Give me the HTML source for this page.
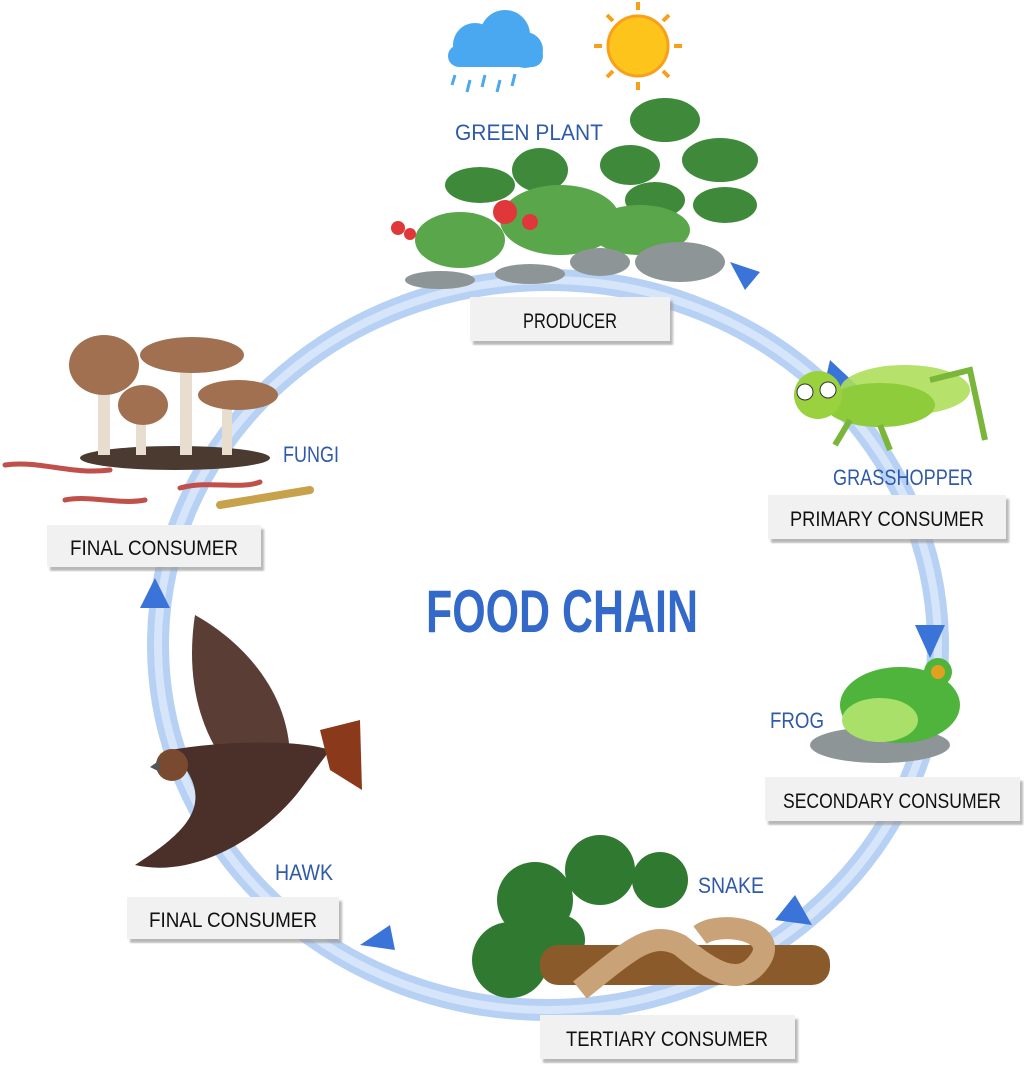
<!DOCTYPE html>
<html><head><meta charset="utf-8"><style>
html,body{margin:0;padding:0;background:#fff;width:1024px;height:1065px;overflow:hidden}
svg{display:block}
.lbl{font-family:"Liberation Sans",sans-serif;font-size:21px;fill:#111}
.blue{font-family:"Liberation Sans",sans-serif;font-size:22px;fill:#2f5aa8}
</style></head><body>
<svg width="1024" height="1065" viewBox="0 0 1024 1065">
<defs>
<filter id="sh"><feDropShadow dx="3" dy="4" stdDeviation="1" flood-color="#999" flood-opacity="0.7"/></filter>
</defs>
<ellipse cx="548" cy="645" rx="390" ry="365" fill="none" stroke="#b7d1f4" stroke-width="22"/>
<ellipse cx="548" cy="645" rx="390" ry="365" fill="none" stroke="#d6e5f9" stroke-width="8"/>
<polygon points="830,360 862,390 822,395" fill="#3b74d9"/>
<polygon points="915,625 945,625 930,658" fill="#3b74d9"/>
<polygon points="795,895 812,925 775,920" fill="#3b74d9"/>
<polygon points="395,950 360,945 390,925" fill="#3b74d9"/>
<polygon points="140,608 170,608 155,578" fill="#3b74d9"/>
<polygon points="730,262 760,272 745,290" fill="#3b74d9"/>
<g fill="#4aa8f0"><circle cx="475" cy="45" r="22"/><circle cx="505" cy="35" r="25"/><circle cx="525" cy="50" r="18"/><rect x="448" y="45" width="95" height="22" rx="11"/></g>
<g stroke="#4aa8f0" stroke-width="3"><line x1="455" y1="75" x2="452" y2="85"/><line x1="470" y1="80" x2="467" y2="92"/><line x1="485" y1="75" x2="482" y2="87"/><line x1="500" y1="80" x2="497" y2="92"/><line x1="515" y1="74" x2="512" y2="86"/></g>
<circle cx="638" cy="46" r="30" fill="#fdc51b" stroke="#f7a11a" stroke-width="3"/>
<g stroke="#f7a11a" stroke-width="4"><line x1="638" y1="2" x2="638" y2="10"/><line x1="638" y1="82" x2="638" y2="90"/><line x1="594" y1="46" x2="602" y2="46"/><line x1="674" y1="46" x2="682" y2="46"/><line x1="607" y1="15" x2="613" y2="21"/><line x1="663" y1="71" x2="669" y2="77"/><line x1="669" y1="15" x2="663" y2="21"/><line x1="607" y1="77" x2="613" y2="71"/></g>
<text class="blue" x="455" y="140" textLength="148" lengthAdjust="spacingAndGlyphs">GREEN PLANT</text>
<g fill="#3e8a3a"><ellipse cx="665" cy="120" rx="35" ry="22"/><ellipse cx="720" cy="160" rx="38" ry="22"/><ellipse cx="630" cy="165" rx="30" ry="20"/><ellipse cx="725" cy="205" rx="32" ry="18"/><ellipse cx="655" cy="200" rx="30" ry="18"/><ellipse cx="480" cy="185" rx="35" ry="18"/><ellipse cx="540" cy="170" rx="28" ry="22"/></g>
<g fill="#5aa64a"><ellipse cx="560" cy="220" rx="60" ry="35"/><ellipse cx="460" cy="240" rx="45" ry="28"/><ellipse cx="640" cy="230" rx="50" ry="25"/></g>
<g fill="#e0383a"><circle cx="505" cy="212" r="12"/><circle cx="530" cy="222" r="8"/><circle cx="398" cy="228" r="7"/><circle cx="410" cy="234" r="6"/></g>
<g fill="#8d9596"><ellipse cx="680" cy="262" rx="45" ry="20"/><ellipse cx="600" cy="262" rx="30" ry="14"/><ellipse cx="530" cy="274" rx="35" ry="10"/><ellipse cx="440" cy="280" rx="35" ry="9"/></g>
<rect x="470" y="297" width="200" height="44" fill="#f1f1f1" filter="url(#sh)"/>
<text class="lbl" x="570" y="328" text-anchor="middle" textLength="94" lengthAdjust="spacingAndGlyphs">PRODUCER</text>
<ellipse cx="905" cy="390" rx="65" ry="25" fill="#aede5a" opacity="0.9"/>
<ellipse cx="880" cy="405" rx="55" ry="22" fill="#8fcc3c"/>
<circle cx="818" cy="395" r="24" fill="#9ad13f"/>
<circle cx="805" cy="392" r="8" fill="#fff" stroke="#333"/><circle cx="828" cy="390" r="8" fill="#fff" stroke="#333"/>
<g stroke="#7ab63a" stroke-width="6" fill="none"><path d="M930 380 L970 370 L985 440"/><path d="M850 420 L835 445"/><path d="M880 425 L890 450"/></g>
<text class="blue" x="833" y="485" textLength="140" lengthAdjust="spacingAndGlyphs">GRASSHOPPER</text>
<rect x="768" y="495" width="238" height="44" fill="#f1f1f1" filter="url(#sh)"/>
<text class="lbl" x="887" y="526" text-anchor="middle" textLength="194" lengthAdjust="spacingAndGlyphs">PRIMARY CONSUMER</text>
<ellipse cx="880" cy="745" rx="70" ry="18" fill="#8d9596"/>
<ellipse cx="900" cy="705" rx="60" ry="38" fill="#4fb43c"/>
<ellipse cx="880" cy="720" rx="38" ry="22" fill="#a8e06a"/>
<circle cx="938" cy="672" r="14" fill="#4fb43c"/><circle cx="938" cy="672" r="7" fill="#e0a020"/>
<text class="blue" x="770" y="728" textLength="54" lengthAdjust="spacingAndGlyphs">FROG</text>
<rect x="765" y="777" width="255" height="44" fill="#f1f1f1" filter="url(#sh)"/>
<text class="lbl" x="892" y="808" text-anchor="middle" textLength="218" lengthAdjust="spacingAndGlyphs">SECONDARY CONSUMER</text>
<g fill="#2f7a30"><circle cx="535" cy="900" r="38"/><circle cx="600" cy="870" r="35"/><circle cx="660" cy="880" r="28"/><circle cx="510" cy="960" r="38"/><circle cx="560" cy="940" r="25"/></g>
<rect x="540" y="945" width="290" height="40" rx="18" fill="#8b5a2b"/>
<g fill="none" stroke="#c9a277" stroke-width="22"><path d="M580 990 C630 950 650 930 680 945 C710 970 740 990 760 960 C780 930 720 920 700 935"/></g>
<text class="blue" x="698" y="893" textLength="66" lengthAdjust="spacingAndGlyphs">SNAKE</text>
<rect x="540" y="1015" width="255" height="44" fill="#f1f1f1" filter="url(#sh)"/>
<text class="lbl" x="667" y="1046" text-anchor="middle" textLength="202" lengthAdjust="spacingAndGlyphs">TERTIARY CONSUMER</text>
<path d="M195 615 C240 640 290 690 290 760 L240 780 C200 740 185 680 195 615Z" fill="#5a3e36"/>
<path d="M170 750 C230 740 300 740 330 750 L300 790 C270 830 200 880 135 865 C190 830 220 800 170 750Z" fill="#4a3028"/>
<path d="M320 730 L360 720 L362 790 L330 770Z" fill="#8a3a1a"/>
<circle cx="172" cy="765" r="16" fill="#7a4a30"/>
<polygon points="150,767 160,760 160,772" fill="#555"/>
<text class="blue" x="275" y="880" textLength="58" lengthAdjust="spacingAndGlyphs">HAWK</text>
<rect x="127" y="897" width="212" height="42" fill="#f1f1f1" filter="url(#sh)"/>
<text class="lbl" x="233" y="927" text-anchor="middle" textLength="168" lengthAdjust="spacingAndGlyphs">FINAL CONSUMER</text>
<ellipse cx="175" cy="458" rx="95" ry="12" fill="#4a3a30"/>
<g fill="#e9ddd0"><rect x="98" y="375" width="12" height="80"/><rect x="180" y="360" width="12" height="95"/><rect x="222" y="400" width="10" height="55"/><rect x="136" y="415" width="10" height="40"/></g>
<g fill="#a07050"><ellipse cx="104" cy="365" rx="35" ry="30"/><ellipse cx="192" cy="355" rx="52" ry="18"/><ellipse cx="238" cy="395" rx="40" ry="15"/><ellipse cx="143" cy="405" rx="25" ry="20"/></g>
<g stroke="#c0504a" stroke-width="5" fill="none" stroke-linecap="round"><path d="M5 465 C40 460 70 475 110 470"/><path d="M65 500 C90 495 120 505 145 500"/><path d="M180 488 C210 480 240 490 260 482"/></g>
<path d="M220 505 L310 490" stroke="#c7a24a" stroke-width="8" stroke-linecap="round"/>
<text class="blue" x="283" y="462" textLength="56" lengthAdjust="spacingAndGlyphs">FUNGI</text>
<rect x="47" y="525" width="214" height="42" fill="#f1f1f1" filter="url(#sh)"/>
<text class="lbl" x="154" y="555" text-anchor="middle" textLength="168" lengthAdjust="spacingAndGlyphs">FINAL CONSUMER</text>
<text x="562" y="632" text-anchor="middle" font-family="Liberation Sans,sans-serif" font-weight="bold" font-size="60" fill="#3369c9" textLength="272" lengthAdjust="spacingAndGlyphs">FOOD CHAIN</text>
</svg>
</body></html>
